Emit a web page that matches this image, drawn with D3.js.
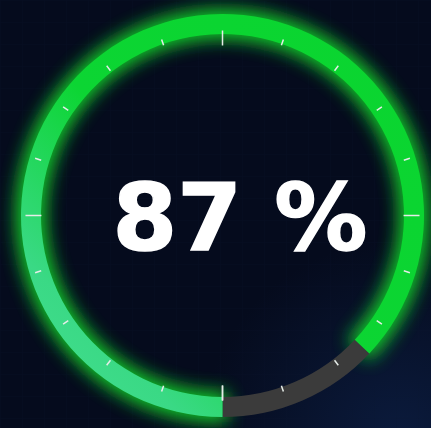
<!DOCTYPE html>
<html>
  <head>
    <meta charset="utf-8">
    <script src="https://d3js.org/d3.v7.min.js"></script>
    <title>Gauge 87%</title>
    <style>
      html, body { margin: 0; padding: 0; background: #050b1d; }
      svg { display: block; }
    </style>
  </head>
  <body>
    <div id="chart"></div>
  <script>

    // DATA
    const value = [87];
    const domainMax = [0, 100];
    const label = ['87 %'];

    // CONSTANTS
    const w = 431, h = 428;
    const cx = 222.5, cy = 215.5;
    const rOuter = 201.5, rInner = 181.5;

    var svg = d3.select('#chart')
	.append('svg')
	.attr('width', w)
	.attr('height', h);

    var defs = svg.append('defs');

    // background: dark navy with a faint blue glow bottom right
    var bg = defs.append('radialGradient')
	.attr('id', 'bgglow')
	.attr('gradientUnits', 'userSpaceOnUse')
	.attr('cx', 400).attr('cy', 440).attr('r', 200);
    bg.append('stop').attr('offset', 0).attr('stop-color', '#0b1b3d');
    bg.append('stop').attr('offset', 1).attr('stop-color', '#050b1d');

    var grid = defs.append('pattern')
	.attr('id', 'grid')
	.attr('patternUnits', 'userSpaceOnUse')
	.attr('width', 22).attr('height', 22);
    grid.append('path')
	.attr('d', 'M22 0 L0 0 0 22')
	.attr('fill', 'none')
	.attr('stroke', '#0c1530')
	.attr('stroke-width', 1);

    // gradient in the centred group's coordinates: mint bottom-left -> green top-right
    var arcGrad = defs.append('linearGradient')
	.attr('id', 'arcgrad')
	.attr('gradientUnits', 'userSpaceOnUse')
	.attr('x1', -rOuter).attr('y1', rOuter)
	.attr('x2', rOuter).attr('y2', -rOuter);
    arcGrad.append('stop').attr('offset', 0).attr('stop-color', '#45e093');
    arcGrad.append('stop').attr('offset', 0.2).attr('stop-color', '#3ad985');
    arcGrad.append('stop').attr('offset', 0.48).attr('stop-color', '#0cd533');
    arcGrad.append('stop').attr('offset', 1).attr('stop-color', '#0ad52f');

    var glow = defs.append('filter')
	.attr('id', 'glow')
	.attr('x', '-25%').attr('y', '-25%')
	.attr('width', '150%').attr('height', '150%');
    glow.append('feGaussianBlur')
	.attr('in', 'SourceGraphic')
	.attr('stdDeviation', 9);

    svg.append('rect').attr('width', w).attr('height', h).attr('fill', 'url(#bgglow)');
    svg.append('rect').attr('width', w).attr('height', h).attr('fill', 'url(#grid)').attr('opacity', 0.3);

    // angle scale: starts at the bottom, goes clockwise
    var angle = d3.scaleLinear()
	.domain(domainMax)
	.range([Math.PI, 3 * Math.PI]);

    var arc = d3.arc()
	.innerRadius(rInner)
	.outerRadius(rOuter);

    var g = svg.append('g')
	.attr('transform', 'translate(' + cx + ',' + cy + ')');

    var valueArc = arc({startAngle: angle(0), endAngle: angle(value[0])});

    // glow under the value arc
    g.append('path')
	.attr('d', valueArc)
	.attr('fill', '#12d82a')
	.attr('stroke', '#12d82a')
	.attr('stroke-width', 10)
	.attr('opacity', 0.95)
	.attr('filter', 'url(#glow)');

    // remaining track
    g.append('path')
	.attr('d', arc({startAngle: angle(value[0]), endAngle: angle(domainMax[1])}))
	.attr('fill', '#3b3b3b');

    // value arc
    g.append('path')
	.attr('d', valueArc)
	.attr('fill', 'url(#arcgrad)');

    // ticks (the tick ring sits slightly wider than tall)
    var tickG = g.append('g')
	.attr('transform', 'scale(1.065,1)');

    tickG.selectAll('line')
	.data(angle.ticks(20))
	.enter()
	.append('line')
	.attr('x1', d => Math.sin(angle(d)) * (d % 25 === 0 ? 170 : 179))
	.attr('y1', d => -Math.cos(angle(d)) * (d % 25 === 0 ? 170 : 179))
	.attr('x2', d => Math.sin(angle(d)) * 185)
	.attr('y2', d => -Math.cos(angle(d)) * 185)
	.attr('stroke', '#e6ece8')
	.attr('stroke-width', 1.5)
	.attr('vector-effect', 'non-scaling-stroke');

    svg.append('text')
	.attr('x', 240)
	.attr('y', 250)
	.attr('text-anchor', 'middle')
	.attr('font-family', 'DejaVu Sans')
	.attr('font-weight', 'bold')
	.attr('font-size', 93)
	.attr('fill', '#ffffff')
	.attr('stroke', '#ffffff')
	.attr('stroke-width', 1.5)
	.text(label[0]);

  </script>
  </body>
</html>
